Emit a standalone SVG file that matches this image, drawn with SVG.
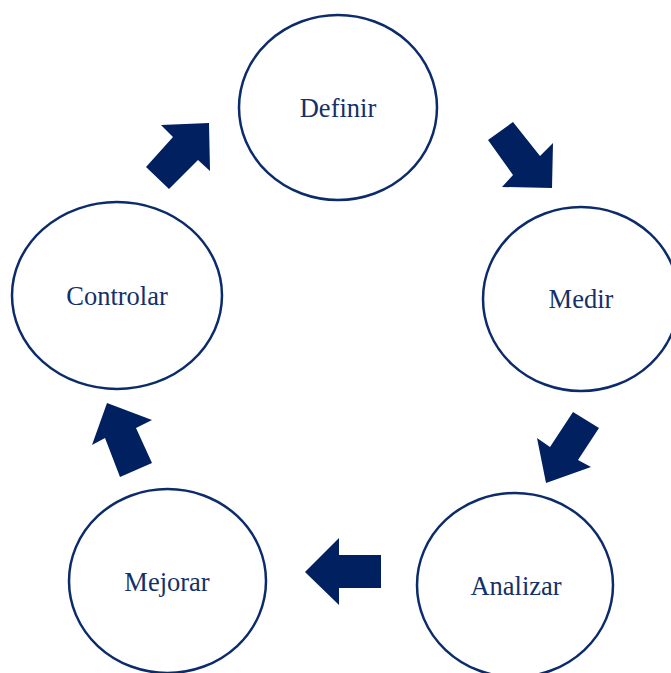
<svg xmlns="http://www.w3.org/2000/svg" width="671" height="673" viewBox="0 0 671 673">
  <style>
    .stage { fill: #ffffff; stroke: #0c2b6b; stroke-width: 2.5; }
    .label { font-family: "Liberation Serif", "Times New Roman", serif; font-size: 26.5px; fill: #14306a; text-anchor: middle; }
    .flow { fill: #002060; stroke: none; }
  </style>
  <rect width="671" height="673" fill="#ffffff"/>

  <!-- DMAIC stages -->
  <g id="definir">
    <ellipse class="stage" cx="338" cy="107.5" rx="99" ry="92.5"/>
    <text class="label" x="338" y="117">Definir</text>
  </g>
  <g id="medir">
    <ellipse class="stage" cx="581" cy="299" rx="98" ry="92"/>
    <text class="label" x="581" y="308">Medir</text>
  </g>
  <g id="analizar">
    <ellipse class="stage" cx="515" cy="585" rx="98" ry="92"/>
    <text class="label" x="516" y="595">Analizar</text>
  </g>
  <g id="mejorar">
    <ellipse class="stage" cx="167.5" cy="581" rx="98.5" ry="92"/>
    <text class="label" x="167" y="591">Mejorar</text>
  </g>
  <g id="controlar">
    <ellipse class="stage" cx="117" cy="295.5" rx="105" ry="93.5"/>
    <text class="label" x="117" y="305">Controlar</text>
  </g>

  <!-- block arrows between stages -->
  <g id="connectors">
    <polygon class="flow" points="488,140 513,122 540,156 553,143 552,188 502,187 513,175"/>
    <polygon class="flow" points="573,412 599,428 578,460 591,467 546,483 537,438 550,447"/>
    <polygon class="flow" points="381,555 339,555 339,538 305,572 339,605 339,588 381,588"/>
    <polygon class="flow" points="107,403 152,420 136,428 152,463 120,477 105,438 92,445"/>
    <polygon class="flow" points="209,123 210,171 198,160 169,189 146,167 173,137 161,125"/>
  </g>
</svg>
